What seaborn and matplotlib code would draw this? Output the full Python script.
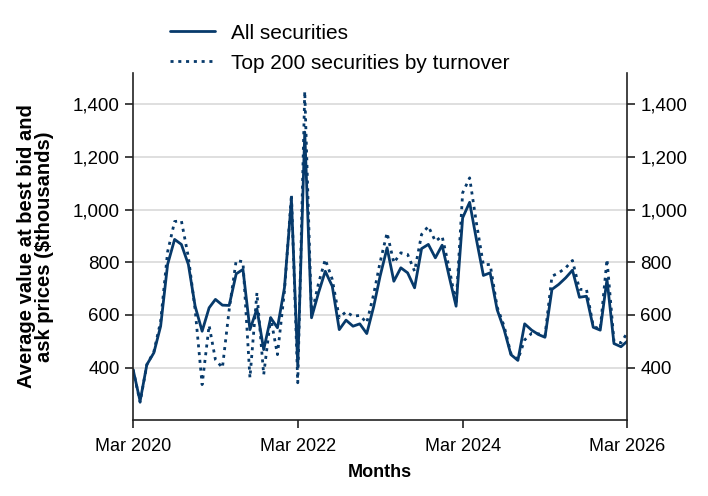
import pandas as pd
import numpy as np
import seaborn as sns
import matplotlib.pyplot as plt
import matplotlib.dates as mdates
from matplotlib.ticker import FuncFormatter

# monthly values, Mar 2020 to Mar 2026 ($thousands)
months = pd.date_range("2020-03-01", periods=73, freq="MS")

all_securities = [392, 272, 411, 456, 557, 792, 887, 868, 792, 633,
                  538, 627, 659, 637, 636, 756, 773, 544, 623, 468,
                  589, 551, 703, 1039, 405, 1295, 589, 684, 766, 709,
                  544, 580, 557, 566, 529, 633, 747, 855, 728, 779,
                  760, 703, 852, 868, 817, 865, 747, 633, 969, 1028,
                  887, 750, 760, 620, 544, 449, 427, 566, 542, 525,
                  515, 697, 716, 741, 770, 667, 671, 553, 542, 735,
                  491, 479, 500]

top200 = [392, 268, 411, 460, 575, 840, 955, 958, 820, 620,
          335, 560, 430, 399, 620, 807, 802, 361, 684, 373,
          589, 449, 690, 1058, 342, 1450, 600, 720, 811, 735,
          589, 612, 595, 598, 570, 680, 800, 912, 798, 836,
          830, 766, 906, 937, 880, 899, 780, 640, 1064, 1121,
          950, 790, 792, 630, 557, 453, 430, 505, 530, 528,
          520, 747, 760, 779, 807, 697, 697, 557, 545, 811,
          500, 494, 532]

labels = ["All securities", "Top 200 securities by turnover"]
xticks = pd.to_datetime(["2020-03-01", "2022-03-01", "2024-03-01", "2026-03-01"])
yticks = [400, 600, 800, 1000, 1200, 1400]

df = pd.DataFrame({"Month": months, labels[0]: all_securities, labels[1]: top200})
df = df.melt(id_vars="Month", var_name="Series", value_name="Value")

sns.set_style("white")
plt.rcParams["font.family"] = ["Liberation Sans", "DejaVu Sans"]
plt.rcParams["text.color"] = "black"
plt.rcParams["axes.labelcolor"] = "black"

navy = "#073a6b"
dots = (1.1, 1.7)

fig = plt.figure(figsize=(7.08, 4.96), dpi=100)
ax = fig.add_axes([0.188, 0.153, 0.698, 0.700])

sns.lineplot(data=df, x="Month", y="Value", style="Series",
             dashes={labels[0]: "", labels[1]: dots},
             color=navy, linewidth=2, ax=ax, legend=False)

ax.set_xlim(xticks[0], xticks[-1])
ax.set_ylim(200, 1520)
ax.set_xticks(xticks)
ax.xaxis.set_major_formatter(mdates.DateFormatter("%b %Y"))
ax.set_yticks(yticks)
ax.yaxis.set_major_formatter(FuncFormatter(lambda v, p: f"{v:,.0f}"))
ax.yaxis.grid(True, color="#d9d9d9", linewidth=1.2)
ax.set_axisbelow(True)

for s in ["left", "bottom", "right"]:
    ax.spines[s].set_color("#222222")
    ax.spines[s].set_linewidth(1.2)
ax.spines["top"].set_visible(False)
ax.tick_params(axis="both", direction="out", length=6, width=1.2,
               colors="#222222", labelcolor="black")
ax.tick_params(axis="x", bottom=True, labelsize=13, pad=7)
ax.tick_params(axis="y", right=True, labelright=True, left=True, labelsize=13.5)

ax.set_xlabel("Months", fontsize=13, fontweight="bold", labelpad=6, color="black")
ax.set_ylabel("Average value at best bid and\nask prices ($thousands)",
              fontsize=14.5, fontweight="bold", linespacing=0.95, color="black")
ax.yaxis.set_label_coords(-0.16, 0.5)

handles = [plt.Line2D([], [], color=navy, lw=2),
           plt.Line2D([], [], color=navy, lw=2, ls=(0, dots))]
leg = fig.legend(handles, labels, loc="upper left", bbox_to_anchor=(0.2136, 0.99),
                 frameon=False, fontsize=15, handlelength=2.15, handletextpad=0.8,
                 labelspacing=0.52)
for t in leg.get_texts():
    t.set_color("black")

plt.savefig("out.png", dpi=100)
